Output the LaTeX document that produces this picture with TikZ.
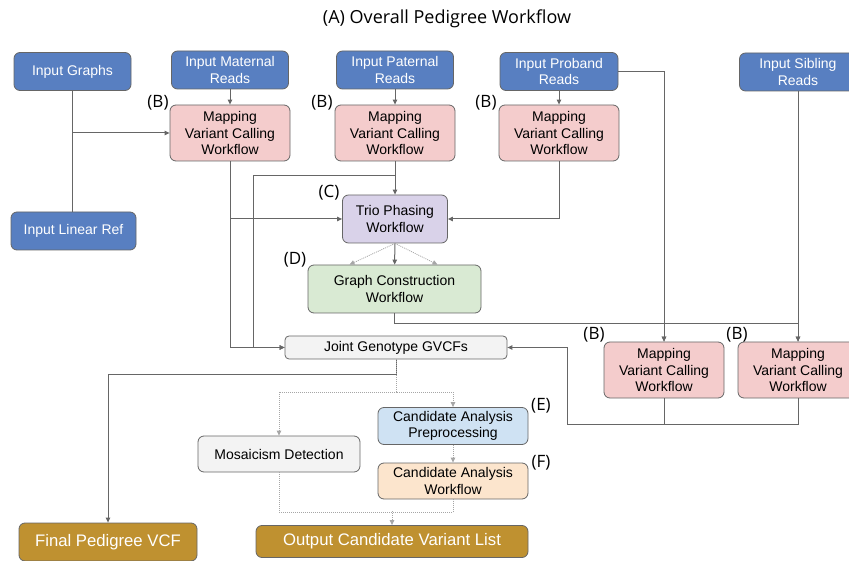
\documentclass[tikz,border=0pt]{standalone}
\usepackage{fontspec}
\setmainfont{Liberation Sans}
\newfontfamily\tagfont{Open Sans}
\usetikzlibrary{arrows.meta,calc}
\definecolor{inblue}{HTML}{587FC1}
\definecolor{mappink}{HTML}{F4CCCC}
\definecolor{triopurple}{HTML}{D9D2E9}
\definecolor{graphgreen}{HTML}{D9EAD3}
\definecolor{prepblue}{HTML}{CFE2F3}
\definecolor{candorange}{HTML}{FCE5CD}
\definecolor{plaingray}{HTML}{F3F3F3}
\definecolor{outgold}{HTML}{BF9130}
\definecolor{edgegray}{HTML}{666666}
\tikzset{
  box/.style={draw=edgegray, line width=0.8pt, rounded corners=6pt, align=center, inner sep=0pt,
    font=\fontsize{14}{16.6}\selectfont},
  inputbox/.style={box, fill=inblue, text=white, minimum width=117pt, minimum height=38pt},
  mapbox/.style={box, fill=mappink, minimum width=120pt, minimum height=56pt},
  outbox/.style={box, fill=outgold, text=white, minimum height=36pt, font=\fontsize{16.7}{19}\selectfont},
  tag/.style={font=\tagfont\fontsize{17}{19}\selectfont, inner sep=0pt},
  conn/.style={draw=edgegray, line width=1pt, -{Triangle[length=5pt,width=4.5pt]}},
  line/.style={draw=edgegray, line width=1pt},
  dotconn/.style={draw=gray!70, line width=0.8pt, dash pattern=on 1pt off 1pt, -{Triangle[length=5pt,width=4.5pt]}},
  dotline/.style={draw=gray!70, line width=0.8pt, dash pattern=on 1pt off 1pt}
}

\begin{document}
\begin{tikzpicture}[x=1pt, y=-1pt]
  \useasboundingbox (0,0) rectangle (849,561);
  \clip (0,0) rectangle (849,561);
  \node[font=\tagfont\fontsize{18}{20}\selectfont] (title) at (447,19) {(A) Overall Pedigree Workflow};

  % inputs
  \node[inputbox] (graphsin) at (72.5,71.5) {Input Graphs};
  \node[inputbox] (maternalin) at (230,70) {Input Maternal\\Reads};
  \node[inputbox] (paternalin) at (395,70) {Input Paternal\\Reads};
  \node[inputbox, minimum width=118pt] (probandin) at (559,71.5) {Input Proband\\Reads};
  \node[inputbox] (siblingin) at (798,72) {Input Sibling\\Reads};
  \node[inputbox, minimum width=125pt] (linref) at (73.5,231) {Input Linear Ref};

  % mapping workflows
  \node[mapbox] (mapmat) at (230,133) {Mapping\\Variant Calling\\Workflow};
  \node[mapbox] (mappat) at (395,133) {Mapping\\Variant Calling\\Workflow};
  \node[mapbox] (mappro) at (559,133) {Mapping\\Variant Calling\\Workflow};
  \node[mapbox] (mapprotwo) at (664,370) {Mapping\\Variant Calling\\Workflow};
  \node[mapbox] (mapsib) at (798,370) {Mapping\\Variant Calling\\Workflow};

  \node[box, fill=triopurple, minimum width=105pt, minimum height=48pt] (trio) at (395,219) {Trio Phasing\\Workflow};
  \node[box, fill=graphgreen, minimum width=173pt, minimum height=48pt] (graphcon) at (394.5,289) {Graph Construction\\Workflow};
  \node[box, fill=plaingray, rounded corners=4pt, minimum width=222pt, minimum height=23pt] (joint) at (396,347.5) {Joint Genotype GVCFs};
  \node[box, fill=prepblue, minimum width=150pt, minimum height=37pt] (prep) at (453,426) {Candidate Analysis\\Preprocessing};
  \node[box, fill=plaingray, minimum width=162pt, minimum height=36pt] (mosaic) at (279,454) {Mosaicism Detection};
  \node[box, fill=candorange, minimum width=150pt, minimum height=36pt] (candwf) at (453,481) {Candidate Analysis\\Workflow};
  \node[outbox, minimum width=178pt, minimum height=38pt] (finalvcf) at (108,542) {Final Pedigree VCF};
  \node[outbox, minimum width=272pt, minimum height=32pt] (outlist) at (392,541.5) {Output Candidate Variant List};

  % tags
  \node[tag] (tagb1) at (158,103) {(B)};
  \node[tag] (tagb2) at (322,103) {(B)};
  \node[tag] (tagb3) at (486,103) {(B)};
  \node[tag] (tagc) at (329,193) {(C)};
  \node[tag] (tagd) at (295,260) {(D)};
  \node[tag] (tagb4) at (594,335) {(B)};
  \node[tag] (tagb5) at (737,335) {(B)};
  \node[tag] (tage) at (541,406) {(E)};
  \node[tag] (tagf) at (541,463) {(F)};

  % connectors
  \draw[line] (graphsin.south) -- (graphsin.south |- linref.north);
  \draw[conn] (graphsin.south |- mapmat.west) -- (mapmat.west);
  \draw[conn] (maternalin) -- (mapmat);
  \draw[conn] (paternalin) -- (mappat);
  \draw[conn] (probandin) -- (mappro);
  \draw[conn] (mapmat.south) |- (trio.west);
  \draw[conn] (mapmat.south) |- (joint.west);
  \draw[conn] (mappat) -- (trio);
  \draw[conn] ($(mappat.south)+(0,14)$) -- ++(-142,0) |- (joint.west);
  \draw[conn] (mappro.south) |- (trio.east);
  \draw[conn] (trio) -- (graphcon);
  \draw[dotconn] (trio.south) -- ($(graphcon.north)+(-45,0)$);
  \draw[dotconn] (trio.south) -- ($(graphcon.north)+(43,0)$);
  \draw[conn] (graphcon.south) -- ++(0,10) -| (mapprotwo.north);
  \draw[conn] (graphcon.south) -- ++(0,10) -| (mapsib.north);
  \draw[conn] (probandin.east) -| (mapprotwo.north);
  \draw[conn] (siblingin) -- (mapsib);
  \draw[line] (mapprotwo.south) -- ++(0,26);
  \draw[conn] (mapsib.south) |- ($(joint.east)+(60,76.5)$) |- (joint.east);
  \draw[conn] (joint.south) -- ++(0,15) -| (finalvcf.north);
  \draw[dotconn] (joint.south) -- ++(0,33) -| (mosaic.north);
  \draw[dotconn] (joint.south) -- ++(0,33) -| (prep.north);
  \draw[dotconn] (prep) -- (candwf);
  \draw[dotline] (mosaic.south) -- ++(0,40) -| (candwf.south);
  \draw[dotconn] ($(outlist.north)+(0,-14)$) -- (outlist.north);
\end{tikzpicture}
\end{document}
